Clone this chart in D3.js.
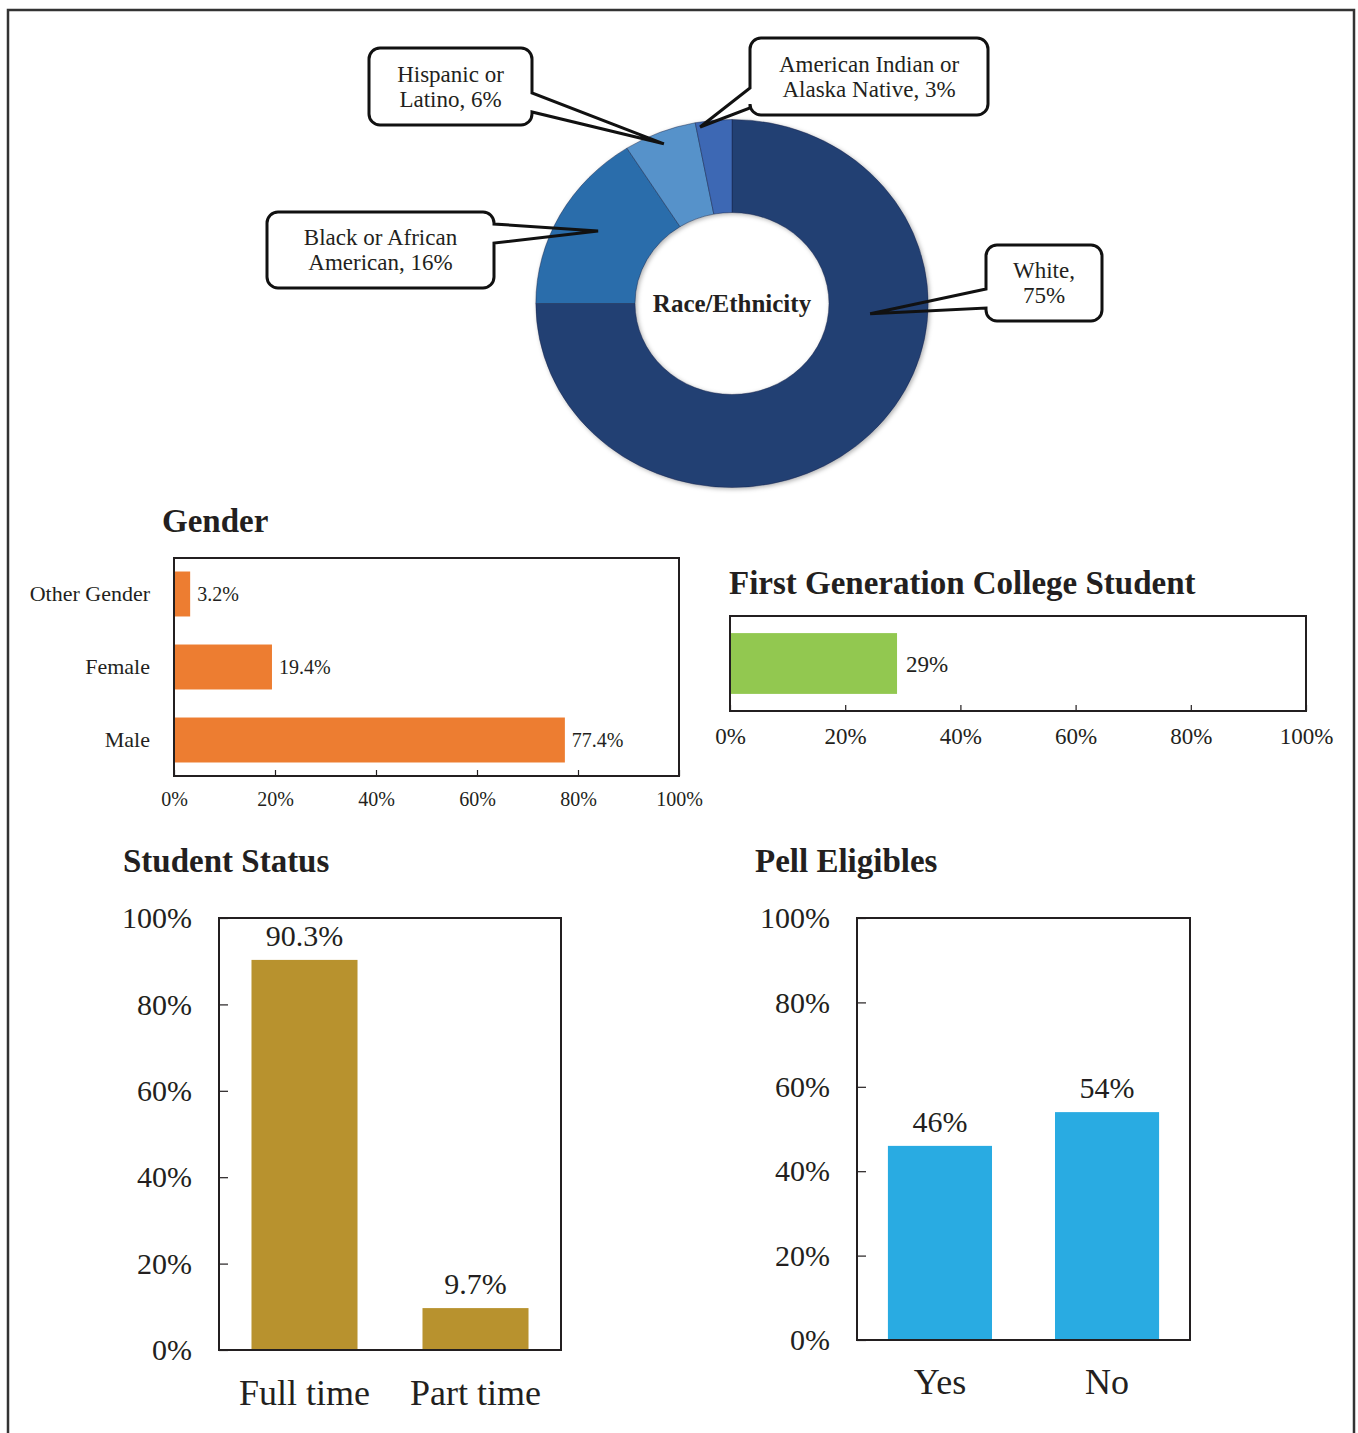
<!DOCTYPE html>
<html>
<head>
<meta charset="utf-8">
<script src="https://cdn.jsdelivr.net/npm/d3@7"></script>
<style>
  body { margin: 0; background: #fff; }
  svg { display: block; }
  text { font-family: "Liberation Serif", "Times New Roman", serif; fill: #231f20; }
</style>
</head>
<body>
<svg id="chart" width="1358" height="1433"></svg>
<script>
// ---- Data ----
const raceCategories = ["White", "Black or African American", "Hispanic or Latino", "American Indian or Alaska Native"];
const raceValues = [75, 16, 6, 3];
const raceLabelLines = [["White,", "75%"], ["Black or African", "American, 16%"], ["Hispanic or", "Latino, 6%"], ["American Indian or", "Alaska Native, 3%"]];

const genderCategories = ["Other Gender", "Female", "Male"];
const genderValues = [3.2, 19.4, 77.4];

const firstGenCategories = ["First Generation"];
const firstGenValues = [29];

const statusCategories = ["Full time", "Part time"];
const statusValues = [90.3, 9.7];

const pellCategories = ["Yes", "No"];
const pellValues = [46, 54];

const percentTicks = [0, 20, 40, 60, 80, 100];

// ---- Setup ----
const svg = d3.select("#chart");
const ink = "#231f20";
const pct = v => `${v}%`;

// outer frame
svg.append("path")
  .attr("d", "M8,1433 V10 H1354 V1433")
  .attr("fill", "none").attr("stroke", "#333").attr("stroke-width", 2.5);

const defs = svg.append("defs");
defs.append("filter").attr("id", "soft").attr("x", "-10%").attr("y", "-10%").attr("width", "120%").attr("height", "120%")
  .append("feDropShadow").attr("dx", 1.5).attr("dy", 1.5).attr("stdDeviation", 2)
  .attr("flood-color", "#000").attr("flood-opacity", 0.3);

// ---- Race / Ethnicity donut ----
const donut = { cx: 732, cy: 303.5, rOuter: 184, rInner: 91, sx: 1.066 };
const raceColors = ["#243f73", "#2c6dab", "#5792ca", "#3e67b4"];
const pie = d3.pie().sort(null).value(d => d)(raceValues);
const arc = d3.arc().innerRadius(donut.rInner).outerRadius(donut.rOuter);

const dg = svg.append("g")
  .attr("transform", `translate(${donut.cx},${donut.cy}) scale(${donut.sx},1)`)
  .attr("filter", "url(#soft)");
dg.selectAll("path").data(pie).join("path")
  .attr("d", arc)
  .attr("fill", (d, i) => raceColors[i])
  .attr("stroke", "rgba(20,35,70,0.55)")
  .attr("stroke-width", 0.8);

svg.append("text")
  .attr("x", donut.cx).attr("y", donut.cy)
  .attr("text-anchor", "middle").attr("dy", "0.35em")
  .style("font-weight", "bold").style("font-size", "25px")
  .text("Race/Ethnicity");

// callout boxes: box geometry, side of the pointer, pointer base offsets, and where in the slice it points
const callouts = [
  { box: [986, 245, 116, 76], side: "left",  base: [44, 63], frac: 0.35, r: 130 },
  { box: [267, 212, 227, 76], side: "right", base: [12, 31], frac: 0.52, r: 145 },
  { box: [369, 48, 163, 77],  side: "right", base: [45, 64], frac: 0.49, r: 172 },
  { box: [750, 38, 238, 77],  side: "left",  base: [50, 70], frac: 0.11, r: 179 }
];

function tipPoint(slice, frac, r) {
  const a = slice.startAngle + frac * (slice.endAngle - slice.startAngle);
  return [donut.cx + donut.sx * r * Math.sin(a), donut.cy - r * Math.cos(a)];
}

function calloutPath(b, side, base, tip) {
  const [x, y, w, h] = b, r = 11;
  const y1 = y + base[0], y2 = y + base[1];
  let p = `M${x + r},${y} H${x + w - r} A${r},${r} 0 0 1 ${x + w},${y + r}`;
  if (side === "right") p += ` V${y1} L${tip[0]},${tip[1]} L${x + w},${y2}`;
  p += ` V${y + h - r} A${r},${r} 0 0 1 ${x + w - r},${y + h} H${x + r} A${r},${r} 0 0 1 ${x},${y + h - r}`;
  if (side === "left") p += ` V${y2} L${tip[0]},${tip[1]} L${x},${y1}`;
  p += ` V${y + r} A${r},${r} 0 0 1 ${x + r},${y}`;
  return p;
}

callouts.forEach((c, i) => {
  const [x, y, w, h] = c.box;
  const tip = tipPoint(pie[i], c.frac, c.r);
  svg.append("rect").attr("x", x).attr("y", y).attr("width", w).attr("height", h)
    .attr("rx", 11).attr("fill", "#fff");
  svg.append("path").attr("d", calloutPath(c.box, c.side, c.base, tip))
    .attr("fill", "none").attr("stroke", "#111").attr("stroke-width", 3)
    .attr("stroke-linejoin", "miter").attr("stroke-miterlimit", 3);
  const cx = x + w / 2, cy = y + h / 2;
  raceLabelLines[i].forEach((line, k) => {
    svg.append("text").attr("x", cx).attr("y", cy + (k - 0.5) * 25)
      .attr("dy", "0.33em").attr("text-anchor", "middle")
      .style("font-size", "23px").text(line);
  });
});

// ---- helpers ----
function title(x, y, txt) {
  svg.append("text").attr("x", x).attr("y", y)
    .style("font-weight", "bold").style("font-size", "33px")
    .text(txt);
}

function styleAxis(g, size) {
  g.selectAll(".domain").remove();
  g.selectAll(".tick line").attr("stroke", ink).attr("stroke-width", 1.2);
  g.selectAll(".tick text").style("font-size", size + "px").attr("fill", ink)
    .style("font-family", "'Liberation Serif', serif");
}

function frame(x0, y0, x1, y1) {
  svg.append("rect").attr("x", x0).attr("y", y0).attr("width", x1 - x0).attr("height", y1 - y0)
    .attr("fill", "none").attr("stroke", ink).attr("stroke-width", 2);
}

// horizontal bar chart
function hbar(o) {
  const x = d3.scaleLinear().domain([0, 100]).range([o.x0, o.x1]);
  const y = d3.scaleBand().domain(o.cats).range([o.y0, o.y1]).paddingInner(o.pi).paddingOuter(o.po);
  svg.append("g").selectAll("rect").data(o.vals).join("rect")
    .attr("x", x(0)).attr("y", (d, i) => y(o.cats[i]))
    .attr("width", d => x(d) - x(0)).attr("height", y.bandwidth())
    .attr("fill", o.color);
  svg.append("g").selectAll("text").data(o.vals).join("text")
    .attr("x", d => x(d) + o.labelGap).attr("y", (d, i) => y(o.cats[i]) + y.bandwidth() / 2)
    .attr("dy", "0.35em").style("font-size", o.valueSize + "px").text(pct);
  const xa = svg.append("g").attr("transform", `translate(0,${o.y1})`)
    .call(d3.axisBottom(x).tickValues(percentTicks).tickFormat(pct)
      .tickSizeInner(-6).tickSizeOuter(0).tickPadding(o.tickPad));
  styleAxis(xa, o.tickSize);
  if (o.showCats) {
    const ya = svg.append("g").attr("transform", `translate(${o.x0},0)`)
      .call(d3.axisLeft(y).tickSize(0).tickPadding(24));
    styleAxis(ya, o.catSize);
  }
  frame(o.x0, o.y0, o.x1, o.y1);
}

// vertical bar chart
function vbar(o) {
  const x = d3.scaleBand().domain(o.cats).range([o.x0, o.x1]).paddingInner(o.pi).paddingOuter(o.po);
  const y = d3.scaleLinear().domain([0, 100]).range([o.y1, o.y0]);
  svg.append("g").selectAll("rect").data(o.vals).join("rect")
    .attr("x", (d, i) => x(o.cats[i])).attr("y", d => y(d))
    .attr("width", x.bandwidth()).attr("height", d => y(0) - y(d))
    .attr("fill", o.color);
  svg.append("g").selectAll("text").data(o.vals).join("text")
    .attr("x", (d, i) => x(o.cats[i]) + x.bandwidth() / 2).attr("y", d => y(d) - 14)
    .attr("text-anchor", "middle").style("font-size", "30px").text(pct);
  const ya = svg.append("g").attr("transform", `translate(${o.x0},0)`)
    .call(d3.axisLeft(y).tickValues(percentTicks).tickFormat(pct)
      .tickSizeInner(-9).tickSizeOuter(0).tickPadding(27));
  styleAxis(ya, 30);
  const xa = svg.append("g").attr("transform", `translate(0,${o.y1})`)
    .call(d3.axisBottom(x).tickSize(0).tickPadding(o.catPad));
  styleAxis(xa, 36);
  frame(o.x0, o.y0, o.x1, o.y1);
}

// ---- Gender ----
title(162, 532, "Gender");
hbar({ cats: genderCategories, vals: genderValues, color: "#ed7d31",
  x0: 174, x1: 679, y0: 558, y1: 776, pi: 0.384, po: 0.185,
  labelGap: 7, valueSize: 20, tickSize: 20, tickPad: 16, showCats: true, catSize: 22 });

// ---- First Generation College Student ----
title(729, 594, "First Generation College Student");
hbar({ cats: firstGenCategories, vals: firstGenValues, color: "#92c850",
  x0: 730, x1: 1306, y0: 616, y1: 711, pi: 0.36, po: 0.18,
  labelGap: 9, valueSize: 23, tickSize: 23, tickPad: 17, showCats: false });

// ---- Student Status ----
title(123, 872, "Student Status");
vbar({ cats: statusCategories, vals: statusValues, color: "#b8922e",
  x0: 219, x1: 561, y0: 918, y1: 1350, pi: 0.38, po: 0.19, catPad: 29 });

// ---- Pell Eligibles ----
title(755, 872, "Pell Eligibles");
vbar({ cats: pellCategories, vals: pellValues, color: "#29abe2",
  x0: 857, x1: 1190, y0: 918, y1: 1340, pi: 0.377, po: 0.185, catPad: 28 });
</script>
</body>
</html>
